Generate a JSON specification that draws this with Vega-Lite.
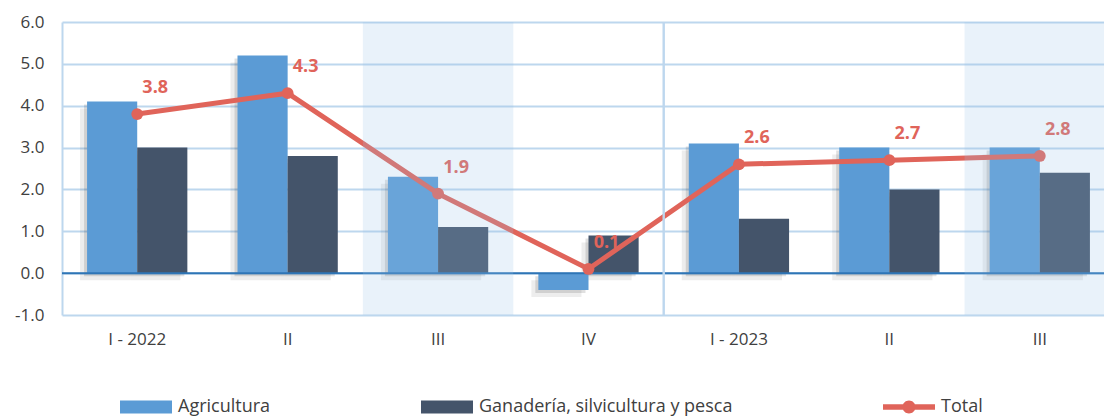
{
  "$schema": "https://vega.github.io/schema/vega-lite/v6.json",
  "width": 1042,
  "height": 293,
  "autosize": "none",
  "padding": {"left": 62, "top": 22, "right": 0, "bottom": 101},
  "background": "white",
  "config": {"view": {"stroke": null}, "font": "Open Sans"},
  "resolve": {"scale": {"xOffset": "independent"}},
  "datasets": {
    "bars": [
      {"q": "I-2022", "serie": "Agricultura", "v": 4.1},
      {"q": "II-2022", "serie": "Agricultura", "v": 5.2},
      {"q": "III-2022", "serie": "Agricultura", "v": 2.3},
      {"q": "IV-2022", "serie": "Agricultura", "v": -0.4},
      {"q": "I-2023", "serie": "Agricultura", "v": 3.1},
      {"q": "II-2023", "serie": "Agricultura", "v": 3.0},
      {"q": "III-2023", "serie": "Agricultura", "v": 3.0},
      {"q": "I-2022", "serie": "Ganadería, silvicultura y pesca", "v": 3.0},
      {"q": "II-2022", "serie": "Ganadería, silvicultura y pesca", "v": 2.8},
      {"q": "III-2022", "serie": "Ganadería, silvicultura y pesca", "v": 1.1},
      {"q": "IV-2022", "serie": "Ganadería, silvicultura y pesca", "v": 0.9},
      {"q": "I-2023", "serie": "Ganadería, silvicultura y pesca", "v": 1.3},
      {"q": "II-2023", "serie": "Ganadería, silvicultura y pesca", "v": 2.0},
      {"q": "III-2023", "serie": "Ganadería, silvicultura y pesca", "v": 2.4}
    ],
    "total": [
      {"q": "I-2022", "v": 3.8},
      {"q": "II-2022", "v": 4.3},
      {"q": "III-2022", "v": 1.9},
      {"q": "IV-2022", "v": 0.1},
      {"q": "I-2023", "v": 2.6},
      {"q": "II-2023", "v": 2.7},
      {"q": "III-2023", "v": 2.8}
    ],
    "shade": [{"q": "III-2022"}, {"q": "III-2023"}],
    "zero": [{"v": 0}]
  },
  "encoding": {
    "x": {
      "field": "q",
      "type": "nominal",
      "scale": {
        "domain": ["I-2022", "II-2022", "III-2022", "IV-2022", "I-2023", "II-2023", "III-2023"],
        "range": [0, 1053],
        "paddingInner": 0,
        "paddingOuter": 0
      },
      "axis": {
        "orient": "bottom",
        "title": null,
        "domain": false,
        "ticks": false,
        "grid": false,
        "labelAngle": 0,
        "labelPadding": 16,
        "labelFontSize": 17,
        "labelFont": "Open Sans",
        "labelColor": "#404040",
        "labelExpr": "datum.value === 'I-2022' ? 'I - 2022' : datum.value === 'I-2023' ? 'I - 2023' : split(datum.value, '-')[0]"
      }
    }
  },
  "layer": [
    {
      "data": {"name": "bars"},
      "mark": {"type": "bar", "color": "#000000", "opacity": 0.07, "yOffset": 7},
      "encoding": {
        "xOffset": {"field": "serie", "type": "nominal", "scale": {"paddingOuter": 0.5, "paddingInner": 0, "align": 0.36}},
        "y": {
          "field": "v",
          "type": "quantitative",
          "title": null,
          "scale": {"domain": [-1, 6], "nice": false, "zero": false},
          "axis": {
            "title": null,
            "values": [-1, 0, 1, 2, 3, 4, 5, 6],
            "labelExpr": "datum.value < 0 ? '-' + format(-datum.value, '.1f') : format(datum.value, '.1f')",
            "grid": true,
            "gridColor": "#BDD7EE",
            "gridWidth": 2,
            "domain": true,
            "domainColor": "#BDD7EE",
            "domainWidth": 2,
            "ticks": false,
            "labelPadding": 18,
            "labelFontSize": 17,
            "labelFont": "Open Sans",
            "labelColor": "#404040"
          }
        }
      }
    },
    {
      "data": {"name": "bars"},
      "mark": {"type": "bar", "color": "#000000", "opacity": 0.12, "yOffset": 3},
      "encoding": {
        "xOffset": {"field": "serie", "type": "nominal", "scale": {"paddingOuter": 0.5, "paddingInner": 0, "align": 0.44}},
        "y": {"field": "v", "type": "quantitative", "title": null}
      }
    },
    {
      "data": {"name": "bars"},
      "mark": {"type": "bar"},
      "encoding": {
        "xOffset": {"field": "serie", "type": "nominal", "scale": {"paddingOuter": 0.5, "paddingInner": 0}},
        "y": {"field": "v", "type": "quantitative", "title": null},
        "color": {
          "field": "serie",
          "type": "nominal",
          "scale": {
            "domain": ["Agricultura", "Ganadería, silvicultura y pesca", "Total"],
            "range": ["#5B9BD5", "#44546A", "#E0645A"]
          },
          "legend": {
            "orient": "none",
            "legendX": 58,
            "legendY": 359,
            "direction": "horizontal",
            "title": null,
            "symbolSize": 2704,
            "symbolStrokeWidth": 0,
            "symbolOpacity": 1,
            "symbolType": "M-1,-0.25H1V0.25H-1Z",
            "labelFontSize": 18,
            "labelFont": "Open Sans",
            "labelColor": "#404040",
            "labelOffset": 6,
            "labelLimit": 400,
            "columnPadding": 150,
            "padding": 0,
            "encode": {
              "symbols": {
                "update": {
                  "shape": {"signal": "datum.value === 'Total' ? 'M-1,-0.11H1V0.11H-1Z M-0.25,0A0.25,0.25 0 1,1 0.25,0A0.25,0.25 0 1,1 -0.25,0Z' : 'M-1,-0.25H1V0.25H-1Z'"}
                }
              }
            }
          }
        }
      }
    },
    {
      "data": {"name": "zero"},
      "mark": {"type": "rule", "color": "#2E75B6", "strokeWidth": 2},
      "encoding": {"x": null, "y": {"field": "v", "type": "quantitative", "title": null}}
    },
    {
      "data": {"name": "total"},
      "mark": {"type": "line", "color": "#E0645A", "strokeWidth": 5},
      "encoding": {"y": {"field": "v", "type": "quantitative", "title": null}}
    },
    {
      "data": {"name": "total"},
      "mark": {"type": "circle", "color": "#E0645A", "size": 140, "opacity": 1},
      "encoding": {"y": {"field": "v", "type": "quantitative", "title": null}}
    },
    {
      "data": {"name": "total"},
      "mark": {"type": "text", "color": "#E0645A", "fontSize": 18, "fontWeight": "bold", "font": "Open Sans", "dx": 18, "dy": -26},
      "encoding": {
        "y": {"field": "v", "type": "quantitative", "title": null},
        "text": {"field": "v", "type": "quantitative", "format": ".1f"}
      }
    },
    {
      "data": {"name": "shade"},
      "mark": {"type": "rect", "color": "#9DC3E6", "opacity": 0.22},
      "encoding": {
        "y": {"datum": 6, "type": "quantitative", "title": null},
        "y2": {"datum": -1}
      }
    },
    {
      "data": {"name": "shade"},
      "mark": {"type": "rule", "color": "#BDD7EE", "strokeWidth": 2},
      "encoding": {"x": {"datum": "I-2023", "type": "nominal", "bandPosition": 0}}
    }
  ]
}
